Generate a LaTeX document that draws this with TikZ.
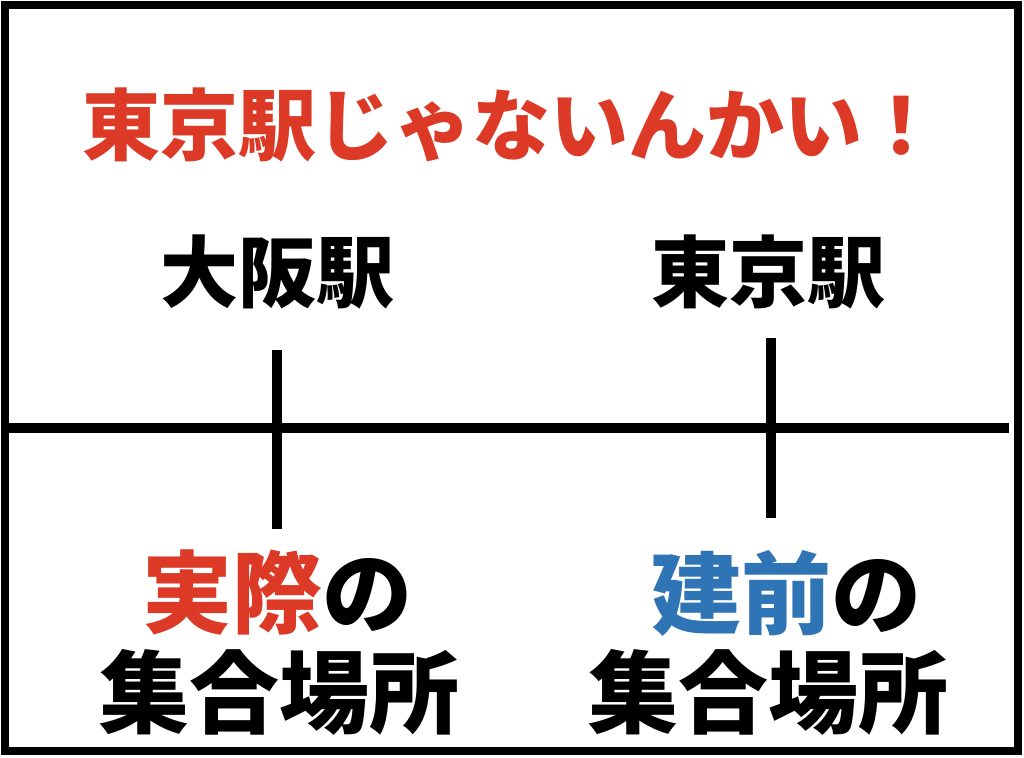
\documentclass[tikz,border=0pt]{standalone}
\usepackage{fontspec}
\newfontfamily\cjk{Noto Sans CJK JP}
\definecolor{accred}{HTML}{DC3A27}
\definecolor{accblue}{HTML}{2F74B5}
\begin{document}
\begin{tikzpicture}[x=1pt,y=-1pt,
  lbl/.style={inner sep=0pt,anchor=center,font=\cjk\bfseries},
  title/.style={lbl,font=\cjk\bfseries\fontsize{78}{84}\selectfont,text=accred},
  station/.style={lbl,font=\cjk\bfseries\fontsize{78}{84}\selectfont},
  place/.style={lbl,font=\cjk\bfseries\fontsize{90}{96}\selectfont},
  frame/.style={line width=8pt},
  rule/.style={line width=10pt}]
\useasboundingbox (0,0) rectangle (1024,757);
\draw[frame] (5,5) rectangle (1018,751);
\coordinate (hl) at (5,428);
\coordinate (hr) at (1009,428);
\draw[rule] (hl) -- (hr);
\coordinate (t1a) at (277,350);
\coordinate (t1b) at (277,529);
\coordinate (t2a) at (771,338);
\coordinate (t2b) at (771,518);
\draw[rule] (t1a) -- (t1b);
\draw[rule] (t2a) -- (t2b);
\node[title] (ttl) at (511,125) {東京駅じゃないんかい！};
\node[station] (osaka) at (277,272) {大阪駅};
\node[station] (tokyo) at (768,272) {東京駅};
\node[place] (real) at (277,593) {\textcolor{accred}{実際}の};
\node[place] (real2) at (279,692) {集合場所};
\node[place] (nom) at (786,593) {\textcolor{accblue}{建前}の};
\node[place] (nom2) at (768,692) {集合場所};
\end{tikzpicture}
\end{document}
